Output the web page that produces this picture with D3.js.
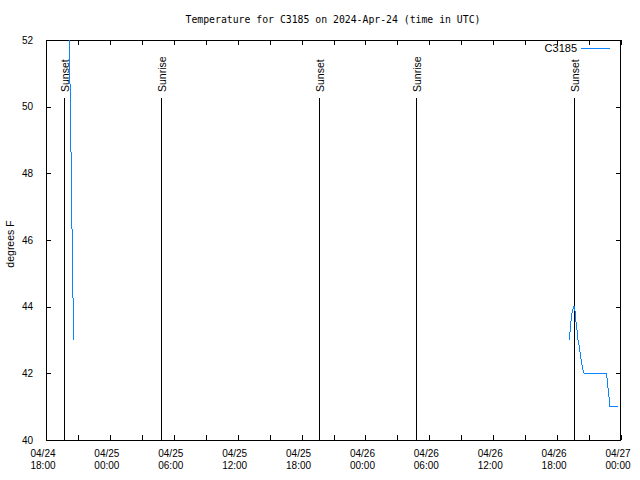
<!DOCTYPE html>
<html><head><meta charset="utf-8">
<script src="https://cdn.jsdelivr.net/npm/d3@7"></script>
<style>
body{margin:0;background:#fff;}
svg text{fill:#000;}
</style></head>
<body><svg id="c" width="640" height="480"></svg>
<script>
const titleText = "Temperature for C3185 on 2024-Apr-24 (time in UTC)";
const yLabel = "degrees F";
const seriesName = "C3185";
const xDomain = ["2024-04-24T18:00Z", "2024-04-27T00:00Z"];
const yDomain = [40, 52];
const yTicks = [40, 42, 44, 46, 48, 50, 52];
const xTickHours = 3;
const xLabelHours = 6;
// sun events
const eventTimes = ["2024-04-24T19:41Z", "2024-04-25T04:48Z", "2024-04-25T19:38Z", "2024-04-26T04:45Z", "2024-04-26T19:35Z"];
const eventNames = ["Sunset", "Sunrise", "Sunset", "Sunrise", "Sunset"];
// temperature series (two segments)
const seg1Times = ["2024-04-24T20:10Z","2024-04-24T20:15Z","2024-04-24T20:20Z","2024-04-24T20:25Z","2024-04-24T20:30Z","2024-04-24T20:36Z"];
const seg1Values = [52.5, 50.8, 49.0, 47.0, 45.0, 43.0];
const seg2Times = ["2024-04-26T19:09Z","2024-04-26T19:15Z","2024-04-26T19:21Z","2024-04-26T19:27Z","2024-04-26T19:34Z","2024-04-26T19:39Z","2024-04-26T19:45Z","2024-04-26T19:52Z","2024-04-26T19:58Z","2024-04-26T20:05Z","2024-04-26T20:12Z","2024-04-26T20:19Z","2024-04-26T20:26Z","2024-04-26T20:33Z","2024-04-26T22:39Z","2024-04-26T22:46Z","2024-04-26T22:52Z","2024-04-26T22:58Z","2024-04-26T23:41Z"];
const seg2Values = [43.0, 43.4, 43.7, 43.9, 44.0, 44.0, 43.6, 43.3, 43.0, 42.8, 42.5, 42.3, 42.1, 42.0, 42.0, 41.6, 41.3, 41.0, 41.0];

const L = 46, R = 621, T = 40, B = 440;
const color = "#0a84ff";
const svg = d3.select("#c");
const x = d3.scaleUtc().domain(xDomain.map(d => new Date(d))).range([L, R]);
const y = d3.scaleLinear().domain(yDomain).range([B, T]);
const mono = "'DejaVu Sans Mono', monospace";
const sans = "'Liberation Sans', Arial, sans-serif";

svg.append("defs").append("clipPath").attr("id", "clip")
  .append("rect").attr("x", L).attr("y", T).attr("width", R - L).attr("height", B - T);

// title
svg.append("text").attr("x", 333).attr("y", 23).attr("text-anchor", "middle")
  .style("font-family", mono).style("font-size", "9.8px").text(titleText);

// y label
svg.append("text").attr("transform", "translate(14,244) rotate(-90)").attr("text-anchor", "middle")
  .style("font-family", sans).style("font-size", "10.5px").text(yLabel);

const px = v => Math.round(v) + 0.5;

// x ticks
const xt = d3.utcHour.every(xTickHours).range(x.domain()[0], d3.utcHour.offset(x.domain()[1], 1));
const g = svg.append("g");
xt.forEach(t => {
  const xx = px(x(t));
  g.append("line").attr("x1", xx).attr("x2", xx).attr("y1", B).attr("y2", B - 5).attr("stroke", "#000");
  g.append("line").attr("x1", xx).attr("x2", xx).attr("y1", T).attr("y2", T + 5).attr("stroke", "#000");
  if (t.getUTCHours() % xLabelHours === 0) {
    const tx = x(t) - 3;
    g.append("text").attr("x", tx).attr("y", 457).attr("text-anchor", "middle")
      .style("font-family", sans).style("font-size", "10px").text(d3.utcFormat("%m/%d")(t));
    g.append("text").attr("x", tx).attr("y", 469).attr("text-anchor", "middle")
      .style("font-family", sans).style("font-size", "10px").text(d3.utcFormat("%H:%M")(t));
  }
});
// y ticks
yTicks.forEach(v => {
  const yy = px(y(v));
  g.append("line").attr("x1", L).attr("x2", L + 5).attr("y1", yy).attr("y2", yy).attr("stroke", "#000");
  g.append("line").attr("x1", R - 5).attr("x2", R).attr("y1", yy).attr("y2", yy).attr("stroke", "#000");
  g.append("text").attr("x", 33).attr("y", y(v) + 3.5).attr("text-anchor", "end")
    .style("font-family", sans).style("font-size", "10px").text(v);
});

// sun events
eventTimes.forEach((t, i) => {
  const xx = px(x(new Date(t)));
  svg.append("line").attr("x1", xx).attr("x2", xx).attr("y1", 98).attr("y2", B).attr("stroke", "#000");
  svg.append("text").attr("transform", `translate(${xx + 4},92) rotate(-90)`)
    .style("font-family", sans).style("font-size", "10.5px").text(eventNames[i]);
});

// border
svg.append("rect").attr("x", L + 0.5).attr("y", T + 0.5).attr("width", R - L - 1).attr("height", B - T)
  .attr("fill", "none").attr("stroke", "#000");

// data
const line = d3.line().x(d => x(d[0])).y(d => y(d[1]));
[[seg1Times, seg1Values], [seg2Times, seg2Values]].forEach(([ts, vs]) => {
  const pts = ts.map((t, i) => [new Date(t), vs[i]]);
  svg.append("path").attr("d", line(pts)).attr("fill", "none").attr("stroke", color)
    .attr("stroke-width", 1).attr("shape-rendering", "crispEdges").attr("clip-path", "url(#clip)");
});

// legend
svg.append("text").attr("x", 577).attr("y", 52).attr("text-anchor", "end")
  .style("font-family", sans).style("font-size", "11px").text(seriesName);
svg.append("line").attr("x1", 581).attr("x2", 610).attr("y1", 48.5).attr("y2", 48.5)
  .attr("stroke", color);
</script></body></html>
